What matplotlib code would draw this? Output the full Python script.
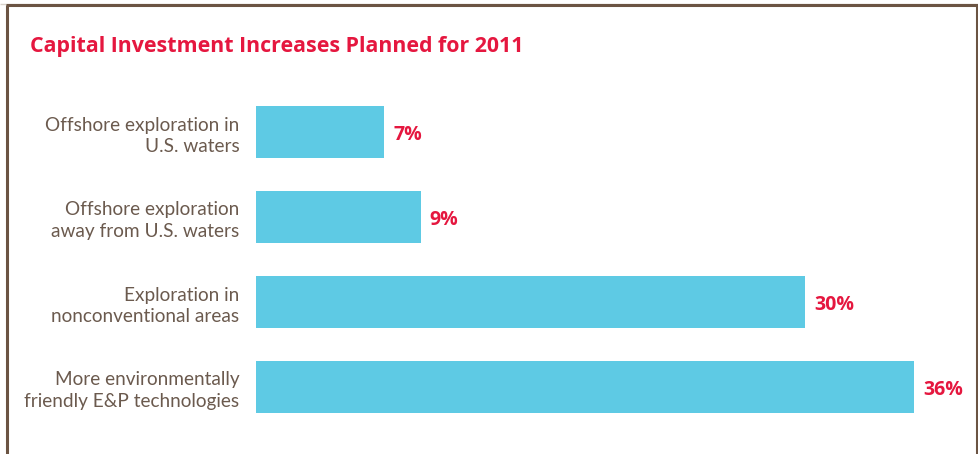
import matplotlib.pyplot as plt
from matplotlib.lines import Line2D

categories = [
    'Offshore exploration in\nU.S. waters',
    'Offshore exploration\naway from U.S. waters',
    'Exploration in\nnonconventional areas',
    'More environmentally\nfriendly E&P technologies',
]
increase_pct = [7, 9, 30, 36]

bar_color = '#5ecae4'
red = '#e5173f'
brown = '#6b5a4e'

W, H = 979, 454
fig = plt.figure(figsize=(W / 100, H / 100), dpi=100)

# plot area placed in pixel terms
ax = fig.add_axes([256 / W, 16 / H, 695 / W, 357 / H])
ypos = range(len(categories))
ax.barh(ypos, increase_pct, height=0.61, color=bar_color)
ax.set_xlim(0, 38)
ax.set_ylim(3.6, -0.6)

ax.set_yticks(list(ypos))
ax.set_yticklabels(categories, fontsize=13.7, color=brown, family='Lato',
                   linespacing=1.3)
ax.tick_params(axis='y', length=0, pad=12)
ax.set_xticks([])
for s in ax.spines.values():
    s.set_visible(False)

for y, v in zip(ypos, increase_pct):
    ax.text(v + 0.5, y + 0.03, f'{v}%', va='center', ha='left', fontsize=14,
            fontweight='bold', color=red, family='Open Sans')

fig.text(30 / W, 1 - 52 / H, 'Capital Investment Increases Planned for 2011',
         fontsize=15.4, fontweight='bold', color=red, family='Open Sans',
         va='baseline', ha='left')

# frame: top, left and right edges only
def px_line(x0, y0, x1, y1, color, lw):
    fig.add_artist(Line2D([x0 / W, x1 / W], [1 - y0 / H, 1 - y1 / H],
                          color=color, lw=lw, transform=fig.transFigure,
                          solid_capstyle='butt'))

px_line(0, 3.5, W, 3.5, '#d8d2cb', 1.0)
px_line(6, 5, 978, 5, '#6b5443', 2.2)
px_line(7, 5, 7, H, '#6b5443', 2.2)
px_line(977, 5, 977, H, '#6b5443', 2.2)

fig.savefig('out.png', dpi=100, facecolor='white')
